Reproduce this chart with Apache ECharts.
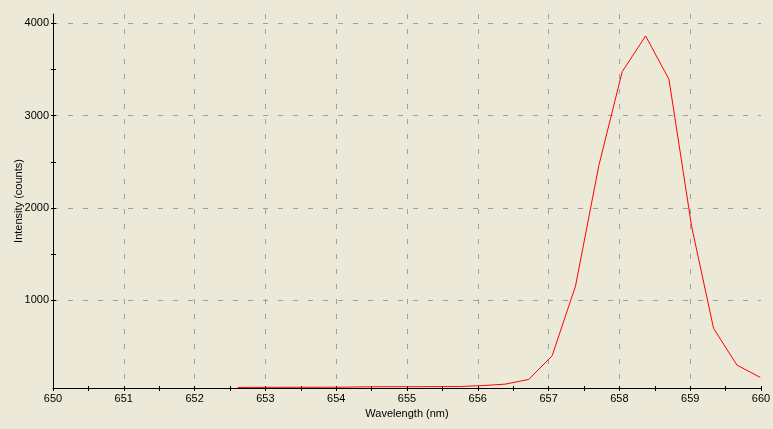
<!DOCTYPE html>
<html>
<head>
<meta charset="utf-8">
<script src="https://cdn.jsdelivr.net/npm/echarts@6/dist/echarts.min.js"></script>
<style>
html,body{margin:0;padding:0;background:#ECE9D8;}
#chart{width:773px;height:429px;}
</style>
</head>
<body>
<div id="chart"></div>
<script>
const wavelengths = [652.61, 652.80, 653.13, 653.45, 653.78, 654.11, 654.43, 654.76, 655.09, 655.41, 655.74, 656.07, 656.39, 656.72, 657.05, 657.38, 657.71, 658.04, 658.37, 658.70, 659.02, 659.33, 659.66, 659.99];
const intensity = [56, 57, 57, 58, 58, 59, 63, 64, 64, 65, 66, 76, 92, 143, 399, 1154, 2460, 3476, 3862, 3393, 1800, 696, 298, 165];
const xTickValues = [650, 650.5, 651, 651.5, 652, 652.5, 653, 653.5, 654, 654.5, 655, 655.5, 656, 656.5, 657, 657.5, 658, 658.5, 659, 659.5, 660];
const xLabelValues = [650, 651, 652, 653, 654, 655, 656, 657, 658, 659, 660];
const xGridValues = [651, 652, 653, 654, 655, 656, 657, 658, 659];
const yTickValues = [1000, 1500, 2000, 2500, 3000, 3500, 4000];
const yLabelValues = [1000, 2000, 3000, 4000];
const yGridValues = [1000, 2000, 3000, 4000];

const FONT = 'Liberation Sans';
const xMin = 650, xMax = 660, yMin = 50, yMax = 4100;
const gridLine = {show: true, lineStyle: {color: '#a0a0a0', type: [5, 10], width: 1}};
const plain = v => String(v);

const chart = echarts.init(document.getElementById('chart'), null, {renderer: 'canvas'});
chart.setOption({
  backgroundColor: '#ECE9D8',
  animation: false,
  grid: {left: 53, right: 12, top: 14, bottom: 41, containLabel: false, outerBoundsMode: 'none'},
  xAxis: [
    {
      type: 'value', position: 'bottom', min: xMin, max: xMax,
      name: 'Wavelength (nm)', nameLocation: 'middle', nameGap: 20, nameMoveOverlap: false,
      nameTextStyle: {color: '#000', fontFamily: FONT, fontSize: 11},
      axisLine: {show: true, lineStyle: {color: '#000', width: 1}},
      axisTick: {show: true, inside: false, length: 3, customValues: xTickValues, lineStyle: {color: '#000'}},
      axisLabel: {show: true, margin: 5, customValues: xLabelValues, formatter: plain, color: '#000', fontFamily: FONT, fontSize: 11},
      splitLine: {show: false}
    },
    {
      type: 'value', position: 'bottom', offset: 0, min: xMin, max: xMax,
      axisLine: {show: false},
      axisTick: {show: true, inside: true, length: 2, customValues: xTickValues, lineStyle: {color: '#000'}},
      axisLabel: {show: false},
      splitLine: {show: false}
    },
    {
      type: 'value', position: 'top', min: xMin, max: xMax,
      axisLine: {show: false},
      axisTick: {show: false, customValues: xGridValues},
      axisLabel: {show: false},
      splitLine: gridLine
    }
  ],
  yAxis: [
    {
      type: 'value', position: 'left', min: yMin, max: yMax,
      name: 'Intensity (counts)', nameLocation: 'middle', nameGap: 29, nameMoveOverlap: false,
      nameTextStyle: {color: '#000', fontFamily: FONT, fontSize: 11},
      axisLine: {show: true, lineStyle: {color: '#000', width: 1}},
      axisTick: {show: true, inside: false, length: 2, customValues: yTickValues, lineStyle: {color: '#000'}},
      axisLabel: {show: true, margin: 4, customValues: yLabelValues, formatter: plain, color: '#000', fontFamily: FONT, fontSize: 11},
      splitLine: {show: false}
    },
    {
      type: 'value', position: 'left', offset: 0, min: yMin, max: yMax,
      axisLine: {show: false},
      axisTick: {show: true, inside: true, length: 3, customValues: yTickValues, lineStyle: {color: '#000'}},
      axisLabel: {show: false},
      splitLine: {show: false}
    },
    {
      type: 'value', position: 'right', min: yMin, max: yMax,
      axisLine: {show: false},
      axisTick: {show: false, customValues: yGridValues},
      axisLabel: {show: false},
      splitLine: gridLine
    }
  ],
  series: [{
    type: 'line',
    xAxisIndex: 0, yAxisIndex: 0,
    data: wavelengths.map((w, i) => [w, intensity[i]]),
    showSymbol: false, symbol: 'none',
    lineStyle: {color: '#ff0000', width: 1},
    itemStyle: {color: '#ff0000'},
    z: 5
  }]
});
</script>
</body>
</html>
